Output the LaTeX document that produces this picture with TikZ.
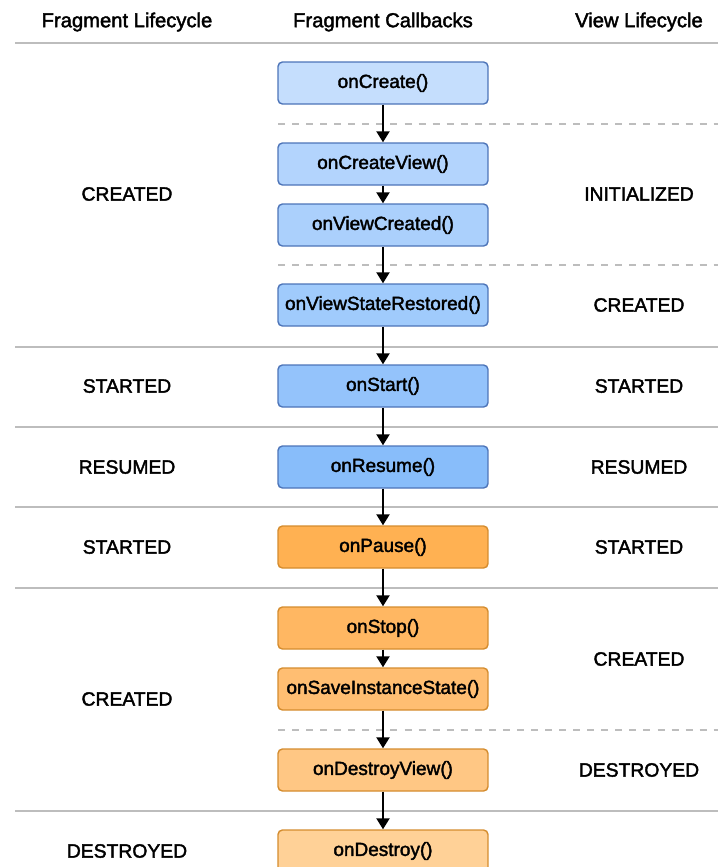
\documentclass[tikz,border=0pt]{standalone}
\usepackage{fontspec}
\setmainfont{Liberation Sans}
\newfontfamily\mediumfont{Liberation Sans}[FakeBold=2]
\usetikzlibrary{arrows.meta,positioning}

\definecolor{blueA}{HTML}{C5DEFD}
\definecolor{blueB}{HTML}{B3D4FD}
\definecolor{blueC}{HTML}{ABD0FC}
\definecolor{blueD}{HTML}{A0CBFC}
\definecolor{blueE}{HTML}{94C3FB}
\definecolor{blueF}{HTML}{88BDFA}
\definecolor{blueEdge}{HTML}{4D74B8}
\definecolor{orangeA}{HTML}{FFB152}
\definecolor{orangeB}{HTML}{FFB762}
\definecolor{orangeC}{HTML}{FFBE72}
\definecolor{orangeD}{HTML}{FFC784}
\definecolor{orangeE}{HTML}{FFD197}
\definecolor{orangeEdge}{HTML}{D48C2E}
\definecolor{ruleGray}{HTML}{BDBDBD}

\tikzset{
  callback/.style={draw, line width=0.8pt, rounded corners=2.5pt,
    minimum width=4.2cm, minimum height=0.84cm, inner xsep=2pt,
    font=\mediumfont\fontsize{10.8}{13}\selectfont},
  bluecb/.style={callback, draw=blueEdge, fill=#1},
  orangecb/.style={callback, draw=orangeEdge, fill=#1},
  state/.style={font=\mediumfont\fontsize{11}{13}\selectfont},
  heading/.style={font=\mediumfont\fontsize{11.5}{13}\selectfont},
  solidrule/.style={ruleGray, line width=1pt},
  dashrule/.style={ruleGray, line width=1pt, dash pattern=on 4pt off 4pt},
  flow/.style={-{Triangle[length=2.2mm,width=2.6mm]}, line width=1.2pt}
}

\begin{document}
\begin{tikzpicture}[x=0.02cm,y=-0.02cm]
  \useasboundingbox (0,0) rectangle (718,867);

  % column headings
  \node[heading] (hfrag) at (127,22) {Fragment Lifecycle};
  \node[heading] (hcall) at (383,22) {Fragment Callbacks};
  \node[heading] (hview) at (639,22) {View Lifecycle};
  \draw[ruleGray, line width=1.4pt] (15,43) -- (718,43);

  % separators
  \foreach \y in {347,427,507,588,811}
    \draw[solidrule] (15,\y) -- (718,\y);
  \foreach \y in {124,265,730}
    \draw[dashrule] (278,\y) -- (718,\y);

  % callbacks
  \node[bluecb=blueA] (create) at (383,83) {onCreate()};
  \node[bluecb=blueB] (createview) at (383,164) {onCreateView()};
  \node[bluecb=blueC] (viewcreated) at (383,225) {onViewCreated()};
  \node[bluecb=blueD] (restored) at (383,305) {onViewStateRestored()};
  \node[bluecb=blueE] (start) at (383,386) {onStart()};
  \node[bluecb=blueF] (resume) at (383,467) {onResume()};
  \node[orangecb=orangeA] (pause) at (383,547) {onPause()};
  \node[orangecb=orangeB] (stop) at (383,628) {onStop()};
  \node[orangecb=orangeC] (save) at (383,689) {onSaveInstanceState()};
  \node[orangecb=orangeD] (destroyview) at (383,770) {onDestroyView()};
  \node[orangecb=orangeE] (destroy) at (383,851) {onDestroy()};

  % fragment lifecycle states
  \node[state] (fcreated) at (127,194) {CREATED};
  \node[state] (fstarted) at (127,386) {STARTED};
  \node[state] (fresumed) at (127,467) {RESUMED};
  \node[state] (fpaused) at (127,547) {STARTED};
  \node[state] (fstopped) at (127,699) {CREATED};
  \node[state] (fdestroyed) at (127,851) {DESTROYED};

  % view lifecycle states
  \node[state] (vinit) at (639,194) {INITIALIZED};
  \node[state] (vcreated) at (639,305) {CREATED};
  \node[state] (vstarted) at (639,386) {STARTED};
  \node[state] (vresumed) at (639,467) {RESUMED};
  \node[state] (vpaused) at (639,547) {STARTED};
  \node[state] (vstopped) at (639,659) {CREATED};
  \node[state] (vdestroyed) at (639,770) {DESTROYED};

  \begin{scope}[flow]
    \draw (create) to (createview);
    \draw (createview) to (viewcreated);
    \draw (viewcreated) to (restored);
    \draw (restored) to (start);
    \draw (start) to (resume);
    \draw (resume) to (pause);
    \draw (pause) to (stop);
    \draw (stop) to (save);
    \draw (save) to (destroyview);
    \draw (destroyview) to (destroy);
  \end{scope}
\end{tikzpicture}
\end{document}
